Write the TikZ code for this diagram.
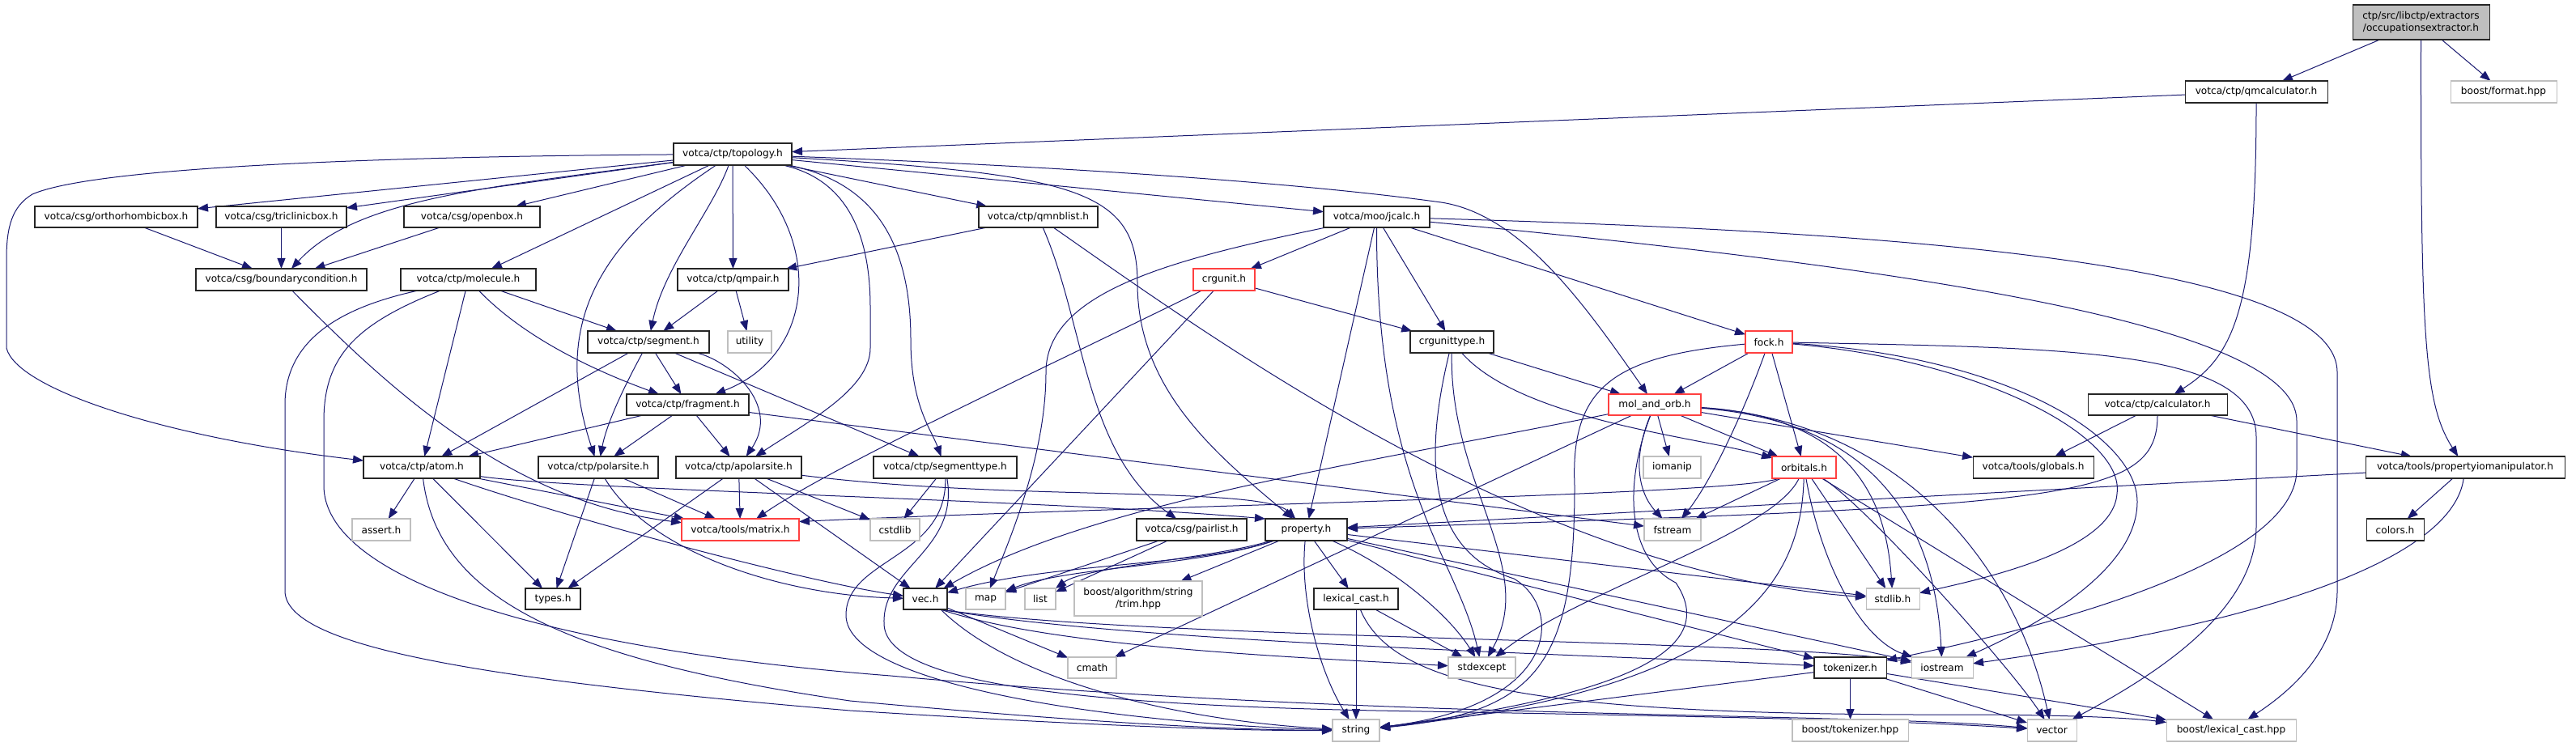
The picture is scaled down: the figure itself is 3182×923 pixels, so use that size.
\documentclass[tikz,border=0pt]{standalone}
\usepackage{fontspec}
\setmainfont{DejaVu Sans}
\usetikzlibrary{arrows.meta}
\definecolor{edgec}{RGB}{25,25,112}
\definecolor{grayb}{RGB}{191,191,191}
\definecolor{redb}{RGB}{255,64,64}
\pgfdeclarelayer{bglayer}
\pgfdeclarelayer{edgelayer}
\pgfsetlayers{bglayer,edgelayer,main}
\newcommand\bx[7]{\node[#6,minimum width={(#4-#2)*0.75pt},minimum height={(#5-#3)*0.75pt}] (#1) at ({(#2+#4)/2},{(#3+#5)/2}) {#7};}
\begin{document}
\begin{tikzpicture}[x=0.75pt,y=-0.75pt,
  basebox/.style={rectangle,inner sep=0pt,outer sep=0pt,align=center,font=\fontsize{9.1}{11.6}\selectfont,fill=white,line width=0.8pt},
  nb/.style={basebox,draw=black!85},
  gb/.style={basebox,draw=grayb},
  rn/.style={basebox,draw=redb},
  rootn/.style={basebox,draw=black!85,fill=grayb},
  edg/.style={draw=edgec,line width=0.75pt,-{Triangle[length=9.75pt,width=7.5pt]}}]
\useasboundingbox (0,0) rectangle (3182,923);
\begin{pgfonlayer}{bglayer}
\fill[white] (0,0) rectangle (3182,923);
\end{pgfonlayer}

\bx{root}{2906}{6}{3075}{49}{rootn}{ctp/src/libctp/extractors\\/occupationsextractor.h}
\bx{qmcalc}{2699}{100}{2875}{127}{nb}{votca/ctp/qmcalculator.h}
\bx{fmt}{3027}{100}{3158}{127}{gb}{boost/format.hpp}
\bx{topo}{832}{177}{978}{204}{nb}{votca/ctp/topology.h}
\bx{ortho}{43}{255}{244}{281}{nb}{votca/csg/orthorhombicbox.h}
\bx{tric}{267}{255}{428}{281}{nb}{votca/csg/triclinicbox.h}
\bx{openb}{499}{255}{667}{281}{nb}{votca/csg/openbox.h}
\bx{qmnb}{1209}{255}{1356}{281}{nb}{votca/ctp/qmnblist.h}
\bx{jcalc}{1635}{255}{1766}{281}{nb}{votca/moo/jcalc.h}
\bx{bc}{242}{332}{453}{359}{nb}{votca/csg/boundarycondition.h}
\bx{mol}{495}{332}{662}{359}{nb}{votca/ctp/molecule.h}
\bx{qmpair}{837}{332}{974}{359}{nb}{votca/ctp/qmpair.h}
\bx{crgu}{1474}{332}{1550}{359}{rn}{crgunit.h}
\bx{seg}{726}{409}{876}{436}{nb}{votca/ctp/segment.h}
\bx{util}{899}{409}{953}{436}{gb}{utility}
\bx{crgt}{1742}{409}{1845}{436}{nb}{crgunittype.h}
\bx{fock}{2156}{409}{2214}{436}{rn}{fock.h}
\bx{frag}{774}{487}{925}{513}{nb}{votca/ctp/fragment.h}
\bx{mo}{1987}{487}{2101}{513}{rn}{mol\_and\_orb.h}
\bx{calc}{2579}{487}{2751}{513}{nb}{votca/ctp/calculator.h}
\bx{atom}{449}{564}{593}{591}{nb}{votca/ctp/atom.h}
\bx{polar}{665}{564}{813}{591}{nb}{votca/ctp/polarsite.h}
\bx{apolar}{835}{564}{990}{591}{nb}{votca/ctp/apolarsite.h}
\bx{segt}{1079}{564}{1256}{591}{nb}{votca/ctp/segmenttype.h}
\bx{orb}{2189}{564}{2268}{591}{rn}{orbitals.h}
\bx{glob}{2437}{564}{2586}{591}{nb}{votca/tools/globals.h}
\bx{ioman}{2030}{564}{2101}{591}{gb}{iomanip}
\bx{pim}{2922}{564}{3168}{591}{nb}{votca/tools/propertyiomanipulator.h}
\bx{assert}{435}{641}{507}{668}{gb}{assert.h}
\bx{matrix}{842}{641}{987}{668}{rn}{votca/tools/matrix.h}
\bx{cstdlib}{1075}{641}{1136}{668}{gb}{cstdlib}
\bx{pair}{1404}{641}{1540}{668}{nb}{votca/csg/pairlist.h}
\bx{prop}{1563}{641}{1664}{668}{nb}{property.h}
\bx{fstream}{2031}{641}{2101}{668}{gb}{fstream}
\bx{colors}{2923}{641}{2994}{668}{nb}{colors.h}
\bx{types}{649}{727}{717}{753}{nb}{types.h}
\bx{vec}{1116}{727}{1170}{753}{nb}{vec.h}
\bx{map}{1193}{727}{1242}{753}{gb}{map}
\bx{list}{1266}{727}{1304}{753}{gb}{list}
\bx{trim}{1327}{718}{1485}{761}{gb}{boost/algorithm/string\\/trim.hpp}
\bx{lexc}{1623}{727}{1727}{753}{nb}{lexical\_cast.h}
\bx{stdlibh}{2305}{727}{2371}{753}{gb}{stdlib.h}
\bx{cmath}{1319}{812}{1379}{838}{gb}{cmath}
\bx{stdexc}{1789}{812}{1872}{838}{gb}{stdexcept}
\bx{tok}{2241}{812}{2330}{838}{nb}{tokenizer.h}
\bx{iostr}{2361}{812}{2437}{838}{gb}{iostream}
\bx{string}{1646}{889}{1704}{916}{gb}{string}
\bx{btok}{2214}{889}{2357}{916}{gb}{boost/tokenizer.hpp}
\bx{vector}{2504}{889}{2565}{916}{gb}{vector}
\bx{blc}{2676}{889}{2836}{916}{gb}{boost/lexical\_cast.hpp}

\begin{pgfonlayer}{edgelayer}
% root
\draw[edg] (root) -- (qmcalc);
\draw[edg] (root) -- (fmt);
\draw[edg] (root) .. controls (2990,420) and (2995,500) .. (pim);
% qmcalculator
\draw[edg] (qmcalc) -- (topo);
\draw[edg] (qmcalc) .. controls (2787,380) and (2760,440) .. (calc);
% topology
\draw[edg] (topo) .. controls (500,193) and (120,205) .. (40,240) .. controls (15,255) and (8,280) .. (8,320) -- (8,430) .. controls (20,480) and (200,540) .. (atom);
\draw[edg] (topo) -- (ortho);
\draw[edg] (topo) -- (tric);
\draw[edg] (topo) .. controls (600,232) and (440,245) .. (bc);
\draw[edg] (topo) -- (openb);
\draw[edg] (topo) -- (mol);
\draw[edg] (topo) .. controls (740,300) and (680,400) .. (polar);
\draw[edg] (topo) .. controls (880,260) and (820,330) .. (seg);
\draw[edg] (topo) -- (qmpair);
\draw[edg] (topo) .. controls (1020,300) and (1005,440) .. (frag);
\draw[edg] (topo) .. controls (1080,225) and (1125,300) .. (1125,420) .. controls (1125,500) and (1150,530) .. (segt);
\draw[edg] (topo) .. controls (1040,220) and (1075,280) .. (1075,380) -- (1075,430) .. controls (1075,480) and (1000,520) .. (apolar);
\draw[edg] (topo) -- (qmnb);
\draw[edg] (topo) -- (jcalc);
\draw[edg] (topo) .. controls (1300,205) and (1600,225) .. (1780,250) .. controls (1880,265) and (1960,380) .. (mo);
\draw[edg] (topo) .. controls (1330,215) and (1405,235) .. (1405,350) .. controls (1405,480) and (1500,560) .. (prop);
% boxes
\draw[edg] (ortho) -- (bc);
\draw[edg] (tric) -- (bc);
\draw[edg] (openb) -- (bc);
\draw[edg] (bc) .. controls (480,480) and (630,620) .. (matrix);
% molecule
\draw[edg] (mol) -- (seg);
\draw[edg] (mol) .. controls (650,420) and (740,460) .. (frag);
\draw[edg] (mol) -- (atom);
\draw[edg] (mol) .. controls (420,380) and (352,420) .. (352,500) -- (352,730) .. controls (352,800) and (600,840) .. (1050,878) .. controls (1400,900) and (1560,903) .. (string);
\draw[edg] (mol) .. controls (440,400) and (400,440) .. (400,520) -- (400,600) .. controls (400,710) and (650,800) .. (1100,835) .. controls (1700,890) and (2300,880) .. (vector);
% qmnblist
\draw[edg] (qmnb) -- (qmpair);
\draw[edg] (qmnb) .. controls (1340,400) and (1340,560) .. (pair);
\draw[edg] (qmnb) .. controls (1500,420) and (1900,710) .. (stdlibh);
% qmpair
\draw[edg] (qmpair) -- (seg);
\draw[edg] (qmpair) -- (util);
% segment
\draw[edg] (seg) -- (atom);
\draw[edg] (seg) .. controls (775,470) and (750,520) .. (polar);
\draw[edg] (seg) -- (frag);
\draw[edg] (seg) -- (segt);
\draw[edg] (seg) .. controls (900,445) and (965,500) .. (apolar);
% crgunit
\draw[edg] (crgu) -- (crgt);
\draw[edg] (crgu) .. controls (1300,450) and (1030,575) .. (matrix);
\draw[edg] (crgu) -- (vec);
% jcalc
\draw[edg] (jcalc) -- (crgu);
\draw[edg] (jcalc) -- (crgt);
\draw[edg] (jcalc) -- (fock);
\draw[edg] (jcalc) -- (prop);
\draw[edg] (jcalc) .. controls (1700,600) and (1800,690) .. (stdexc);
\draw[edg] (jcalc) .. controls (1450,320) and (1292,360) .. (1292,460) .. controls (1292,560) and (1250,660) .. (map);
\draw[edg] (jcalc) .. controls (2300,285) and (2887,320) .. (2887,460) -- (2887,730) .. controls (2887,810) and (2820,860) .. (blc);
\draw[edg] (jcalc) .. controls (2350,330) and (2837,400) .. (2837,520) -- (2837,580) .. controls (2837,680) and (2600,760) .. (tok);
% fock
\draw[edg] (fock) -- (mo);
\draw[edg] (fock) -- (orb);
\draw[edg] (fock) .. controls (2150,520) and (2110,600) .. (fstream);
\draw[edg] (fock) .. controls (1990,440) and (1940,480) .. (1945,600) .. controls (1945,820) and (1900,880) .. (string);
\draw[edg] (fock) .. controls (2450,445) and (2625,540) .. (2615,610) .. controls (2610,680) and (2450,715) .. (stdlibh);
\draw[edg] (fock) .. controls (2480,440) and (2640,540) .. (2640,620) .. controls (2640,710) and (2500,780) .. (iostr);
\draw[edg] (fock) .. controls (2550,430) and (2787,430) .. (2787,540) -- (2787,650) .. controls (2787,760) and (2650,840) .. (vector);
% crgunittype
\draw[edg] (crgt) -- (mo);
\draw[edg] (crgt) .. controls (1880,520) and (2100,540) .. (orb);
\draw[edg] (crgt) .. controls (1790,600) and (1900,700) .. (stdexc);
\draw[edg] (crgt) .. controls (1760,560) and (1760,680) .. (1870,715) .. controls (1930,750) and (1930,870) .. (string);
% mol_and_orb
\draw[edg] (mo) .. controls (1700,570) and (1350,620) .. (vec);
\draw[edg] (mo) -- (cmath);
\draw[edg] (mo) .. controls (2005,600) and (2010,690) .. (2070,720) .. controls (2110,780) and (2080,850) .. (string);
\draw[edg] (mo) .. controls (2015,570) and (2025,610) .. (fstream);
\draw[edg] (mo) -- (ioman);
\draw[edg] (mo) -- (orb);
\draw[edg] (mo) -- (glob);
\draw[edg] (mo) .. controls (2290,515) and (2330,620) .. (stdlibh);
\draw[edg] (mo) .. controls (2310,520) and (2390,640) .. (iostr);
\draw[edg] (mo) .. controls (2350,520) and (2490,700) .. (vector);
% orbitals
\draw[edg] (orb) .. controls (2150,612) and (1400,625) .. ([yshift=7.5pt]matrix.east);
\draw[edg] (orb) -- (fstream);
\draw[edg] (orb) .. controls (2190,660) and (1950,730) .. (stdexc);
\draw[edg] (orb) .. controls (2225,720) and (2150,850) .. (string);
\draw[edg] (orb) .. controls (2250,700) and (2300,790) .. (iostr);
\draw[edg] (orb) -- (stdlibh);
\draw[edg] (orb) .. controls (2300,620) and (2480,820) .. (vector);
\draw[edg] (orb) -- (blc);
% calculator
\draw[edg] (calc) -- (glob);
\draw[edg] (calc) -- (pim);
\draw[edg] (calc) .. controls (2665,620) and (2550,625) .. (prop);
% propertyiomanipulator
\draw[edg] (pim) -- (colors);
\draw[edg] (pim) -- (prop);
\draw[edg] (pim) .. controls (3030,690) and (2800,770) .. (iostr);
% atom
\draw[edg] (atom) -- (assert);
\draw[edg] (atom) -- (types);
\draw[edg] (atom) .. controls (700,640) and (1000,720) .. (vec);
\draw[edg] (atom) -- (matrix);
\draw[edg] (atom) .. controls (540,740) and (700,815) .. (1050,866) .. controls (1400,898) and (1550,902) .. (string);
\draw[edg] (atom) .. controls (700,605) and (1300,618) .. (prop.north west);
% polarsite
\draw[edg] (polar) -- (types);
\draw[edg] (polar) -- (matrix);
\draw[edg] (polar) .. controls (800,680) and (960,735) .. (vec);
% apolarsite
\draw[edg] (apolar) -- (types);
\draw[edg] (apolar) -- (matrix);
\draw[edg] (apolar) -- (vec);
\draw[edg] (apolar) -- (cstdlib);
\draw[edg] (apolar) .. controls (1250,620) and (1560,600) .. (prop);
% fragment
\draw[edg] (frag) -- (atom);
\draw[edg] (frag) -- (polar);
\draw[edg] (frag) -- (apolar);
\draw[edg] (frag) -- (fstream);
% segmenttype
\draw[edg] (segt) -- (cstdlib);
\draw[edg] (segt) .. controls (1170,690) and (1045,690) .. (1045,760) .. controls (1045,850) and (1400,895) .. (string);
\draw[edg] (segt) .. controls (1185,680) and (1090,700) .. (1092,770) .. controls (1092,840) and (1300,870) .. (1700,878) .. controls (2100,885) and (2350,890) .. (vector);
% pairlist
\draw[edg] (pair) -- (map);
\draw[edg] (pair) -- (list);
% property
\draw[edg] (prop) .. controls (1480,700) and (1300,695) .. (vec);
\draw[edg] (prop) .. controls (1480,700) and (1320,700) .. (map);
\draw[edg] (prop) .. controls (1500,690) and (1340,700) .. (list.north east);
\draw[edg] (prop) -- (trim);
\draw[edg] (prop) .. controls (1605,740) and (1630,830) .. (string);
\draw[edg] (prop) -- (lexc);
\draw[edg] (prop) .. controls (1720,700) and (1790,760) .. (stdexc);
\draw[edg] (prop) -- (stdlibh);
\draw[edg] (prop) -- (iostr);
\draw[edg] (prop) -- (tok);
% vec
\draw[edg] (vec) -- (cmath);
\draw[edg] ([xshift=-6pt]vec.south east) .. controls (1300,800) and (1600,812) .. (stdexc);
\draw[edg] ([xshift=-6pt]vec.south east) .. controls (1400,790) and (2200,790) .. (iostr);
\draw[edg] ([xshift=-6pt]vec.south east) .. controls (1400,795) and (2000,810) .. (tok);
\draw[edg] ([xshift=-6pt]vec.south east) .. controls (1250,840) and (1450,890) .. (string);
% lexical_cast
\draw[edg] (lexc) -- (string);
\draw[edg] (lexc) -- (stdexc);
\draw[edg] (lexc) .. controls (1720,850) and (1900,885) .. (2450,883) .. controls (2580,884) and (2640,888) .. (blc);
% tokenizer
\draw[edg] (tok) -- (btok);
\draw[edg] (tok) -- (vector);
\draw[edg] (tok) -- (blc);
\draw[edg] (tok) -- (string);
\end{pgfonlayer}
\end{tikzpicture}
\end{document}
